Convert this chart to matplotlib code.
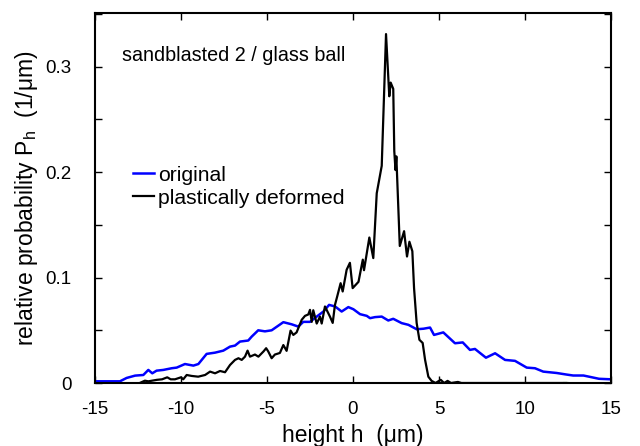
import matplotlib
matplotlib.use("Agg")
import matplotlib.pyplot as plt
from matplotlib.ticker import MultipleLocator

plt.rcParams['font.family'] = ['Liberation Sans', 'DejaVu Sans']
plt.rcParams['mathtext.fontset'] = 'custom'
plt.rcParams['mathtext.rm'] = 'Liberation Sans'

# original surface height distribution
orig_x = [-15, -13.55, -13.16, -12.67, -12.19, -11.9, -11.67, -11.42, -11.03, -10.54,
          -10.25, -9.77, -9.28, -8.99, -8.51, -8.02, -7.54, -7.15, -6.86, -6.57,
          -6.09, -5.89, -5.51, -5.12, -4.73, -4.05, -3.57, -3.18, -2.89, -2.5,
          -2.11, -1.72, -1.39, -1.04, -0.66, -0.27, 0.02, 0.41, 0.80, 0.99,
          1.28, 1.67, 2.05, 2.34, 2.83, 3.22, 3.70, 4.1, 4.48, 4.71,
          5.25, 5.93, 6.38, 6.80, 7.09, 7.73, 8.26, 8.84, 9.42, 10.10,
          10.58, 11.06, 11.84, 12.42, 12.8, 13.4, 13.78, 14.3, 15]
orig_y = [0.0016, 0.0016, 0.0048, 0.007, 0.0076, 0.0124, 0.0092, 0.0117, 0.0124, 0.014,
          0.0146, 0.018, 0.0165, 0.018, 0.0276, 0.0288, 0.0307, 0.0345, 0.0355, 0.0393,
          0.0403, 0.044, 0.050, 0.049, 0.050, 0.0577, 0.0557, 0.0535, 0.058, 0.058,
          0.063, 0.0678, 0.0741, 0.0726, 0.0678, 0.072, 0.070, 0.0653, 0.0637, 0.0615,
          0.0625, 0.063, 0.0593, 0.0609, 0.0568, 0.0552, 0.051, 0.0515, 0.0526, 0.0456,
          0.048, 0.0377, 0.0385, 0.0314, 0.0323, 0.024, 0.0282, 0.0219, 0.021, 0.0146,
          0.014, 0.0108, 0.0095, 0.008, 0.0071, 0.0071, 0.0058, 0.004, 0.0035]

# plastically deformed surface height distribution
def_x = [-12.4, -12.1, -11.9, -11.4, -11.1, -10.8, -10.6, -10.35, -10.0, -9.87,
         -9.67, -9.38, -9.0, -8.6, -8.31, -8.02, -7.73, -7.44, -7.15, -6.86,
         -6.66, -6.47, -6.28, -6.13, -5.99, -5.7, -5.5, -5.2, -5.05, -4.93,
         -4.73, -4.54, -4.25, -4.05, -3.86, -3.63, -3.47, -3.28, -2.98, -2.79,
         -2.6, -2.5, -2.4, -2.31, -2.11, -1.92, -1.82, -1.63, -1.34, -1.18,
         -1.05, -0.92, -0.72, -0.6, -0.37, -0.18, -0.02, 0.32, 0.45, 0.57,
         0.64, 0.95, 1.18, 1.38, 1.67, 1.92, 2.11, 2.19, 2.34, 2.4,
         2.47, 2.52, 2.72, 2.97, 3.14, 3.28, 3.45, 3.55, 3.7, 3.86,
         4.05, 4.19, 4.38, 4.57, 4.8, 5.1, 5.3, 5.5, 5.7, 6.1,
         6.3, 12.4]
def_y = [0.0, 0.0022, 0.0016, 0.003, 0.0035, 0.0054, 0.0035, 0.0035, 0.0054, 0.0035,
         0.0076, 0.0067, 0.006, 0.0076, 0.0108, 0.0092, 0.0114, 0.0102, 0.0171, 0.0219,
         0.0235, 0.0219, 0.025, 0.0307, 0.025, 0.027, 0.025, 0.030, 0.033, 0.030,
         0.0235, 0.027, 0.0285, 0.036, 0.0305, 0.0497, 0.0456, 0.048, 0.060, 0.0637,
         0.065, 0.0694, 0.058, 0.069, 0.0564, 0.063, 0.0564, 0.0726, 0.063, 0.057,
         0.074, 0.082, 0.0947, 0.0868, 0.1074, 0.114, 0.090, 0.096, 0.107, 0.117,
         0.107, 0.138, 0.1185, 0.180, 0.206, 0.331, 0.272, 0.285, 0.279, 0.22,
         0.202, 0.215, 0.13, 0.144, 0.12, 0.134, 0.125, 0.09, 0.057, 0.041,
         0.038, 0.022, 0.006, 0.002, 0.0, 0.003, 0.0, 0.002, 0.0, 0.001,
         0.0, 0.0]

# tiny green mark on the baseline
green_x = [12.25, 12.5]
green_y = [0.0, 0.0]

x_ticks = [-15, -10, -5, 0, 5, 10, 15]
y_ticks = [0, 0.1, 0.2, 0.3]
y_ticklabels = ['0', '0.1', '0.2', '0.3']

fig = plt.figure(figsize=(6.4, 4.46), dpi=100)
ax = fig.add_axes([95/640, 63/446, (611-95)/640, (383-13)/446])

ax.plot(green_x, green_y, color='#00cc00', lw=1.5, zorder=1)
ax.plot(orig_x, orig_y, color='#0000ff', lw=1.8, label='original', zorder=2)
ax.plot(def_x, def_y, color='black', lw=1.6, label='plastically deformed', zorder=3)

ax.set_xlim(-15, 15)
ax.set_ylim(0, 0.351)
ax.set_xticks(x_ticks)
ax.set_xticklabels([str(t) for t in x_ticks])
ax.set_yticks(y_ticks)
ax.set_yticklabels(y_ticklabels)
ax.yaxis.set_minor_locator(MultipleLocator(0.05))
ax.tick_params(which='both', direction='in', top=True, right=True, width=1.0,
               labelsize=13.5)
ax.tick_params(axis='x', which='both', pad=13)
ax.tick_params(axis='y', which='both', pad=17)
ax.tick_params(which='major', length=5)
ax.tick_params(which='minor', length=5)
for s in ax.spines.values():
    s.set_linewidth(1.5)

ax.set_xlabel('height h  (μm)', fontsize=16.5)
ax.set_ylabel(r'relative probability P$_\mathregular{h}$  (1/μm)', fontsize=16.5)
ax.xaxis.set_label_coords(0.5, -0.112)
ax.yaxis.set_label_coords(-0.107, 0.5)

ax.text(0.0516, 0.884, 'sandblasted 2 / glass ball', transform=ax.transAxes,
        fontsize=14.2, ha='left', va='center')

leg = ax.legend(loc='upper left', bbox_to_anchor=(0.073, 0.5875), frameon=False,
                fontsize=15.2, handlelength=1.0, handletextpad=0.22, labelspacing=0.2,
                borderaxespad=0, borderpad=0)

fig.savefig('out.png', dpi=100)
